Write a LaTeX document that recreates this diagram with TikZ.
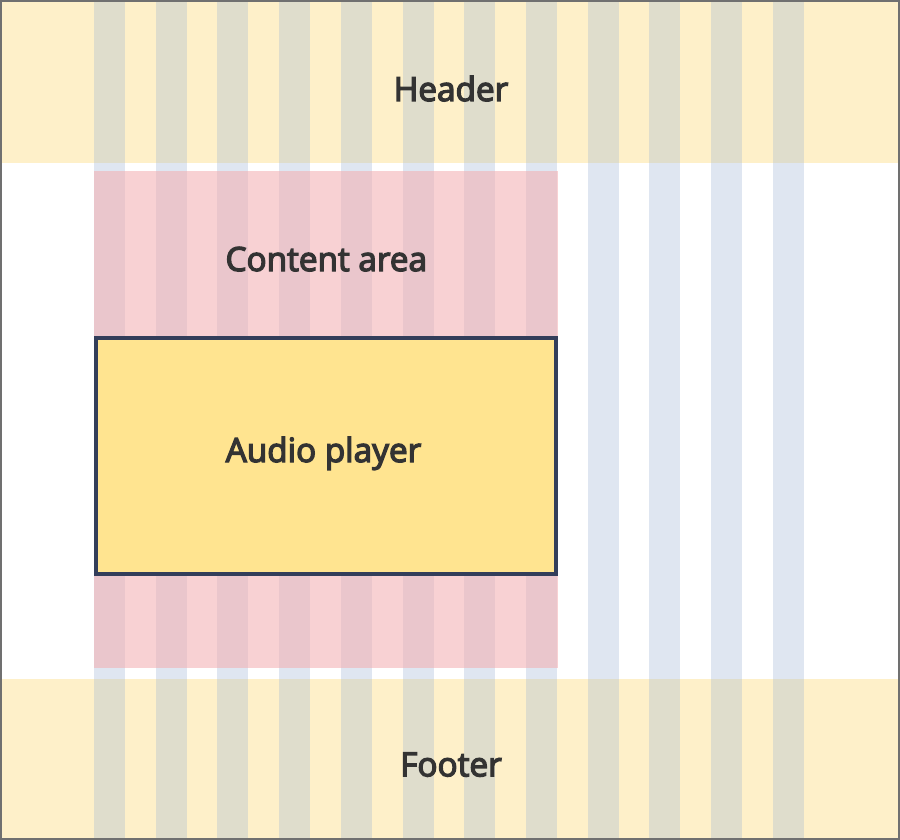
\documentclass[tikz,border=0pt]{standalone}
\usepackage{fontspec}
\newfontfamily\lblfont{Open Sans}[FakeBold=4]
\definecolor{bandc}{HTML}{FEF0C9}
\definecolor{bandcol}{HTML}{DFDDCC}
\definecolor{whitecol}{HTML}{DFE6F1}
\definecolor{pinkc}{HTML}{F8D1D3}
\definecolor{pinkcol}{HTML}{EAC6CC}
\definecolor{audiofill}{HTML}{FFE490}
\definecolor{audioline}{HTML}{333E5A}
\definecolor{txtc}{HTML}{333333}
\definecolor{framec}{HTML}{707070}
\tikzset{
  lbl/.style={font=\lblfont\fontsize{33.3}{40}\selectfont, text=txtc, anchor=base, inner sep=0pt},
  audiobox/.style={draw=audioline, line width=4pt, fill=audiofill, minimum width=460pt, minimum height=236pt, inner sep=0pt}
}
\begin{document}
\begin{tikzpicture}[x=1pt,y=-1pt]
\useasboundingbox (0,0) rectangle (900,840);
\fill[white] (0,0) rectangle (900,840);
% blue columns on white
\foreach \i in {0,...,11}{
  \pgfmathsetmacro{\xa}{94+61.7*\i}
  \fill[whitecol] (\xa,0) rectangle (\xa+31,840);
}
% header and footer bands
\fill[bandc] (0,0) rectangle (900,162.7);
\fill[bandc] (0,679.3) rectangle (900,840);
% content area
\fill[pinkc] (94,171) rectangle (558,668);
\foreach \i in {0,...,11}{
  \pgfmathsetmacro{\xa}{94+61.7*\i}
  \fill[bandcol] (\xa,0) rectangle (\xa+31,162.7);
  \fill[bandcol] (\xa,679.3) rectangle (\xa+31,840);
}
\foreach \i in {0,...,7}{
  \pgfmathsetmacro{\xa}{94+61.7*\i}
  \fill[pinkcol] (\xa,171) rectangle (\xa+31,668);
}
% audio player
\node[audiobox] (audio) at (326,456) {};
% labels
\node[lbl] (header) at (451,101) {Header};
\node[lbl] (content) at (326.3,271) {Content area};
\node[lbl] (audiolbl) at (323.5,462) {Audio player};
\node[lbl] (footer) at (451,776.3) {Footer};
% frame
\draw[framec, line width=2pt] (1,1) rectangle (899,839);
\end{tikzpicture}
\end{document}
